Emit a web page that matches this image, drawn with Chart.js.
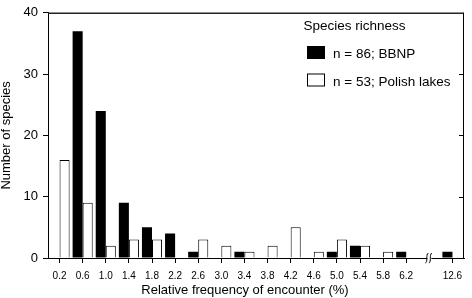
<!DOCTYPE html>
<html><head><meta charset="utf-8">
<script src="https://cdn.jsdelivr.net/npm/chart.js@4/dist/chart.umd.min.js"></script>
<style>html,body{margin:0;padding:0;background:#fff;}#wrap{width:472px;height:298px;}</style>
</head><body><div id="wrap"><canvas id="c" width="472" height="298"></canvas></div>
<script>
// ---- data ----
const categories = ['0.2','0.6','1.0','1.4','1.8','2.2','2.6','3.0','3.4','3.8','4.2','4.6','5.0','5.4','5.8','6.2','','12.6'];
const bbnp   = [0,37,24,9,5,4,1,0,1,0,0,0,1,2,0,1,0,1];
const polish = [16,9,2,3,3,0,3,2,1,2,5,1,3,2,1,0,0,0];
const yTicks = [0,10,20,30,40];
const seriesLabels = ['n = 86; BBNP','n = 53; Polish lakes'];
const legendTitle = 'Species richness';
const xTitle = 'Relative frequency of encounter (%)';
const yTitle = 'Number of species';
const breakIndex = 16;

const FONT = "'Liberation Sans', Arial, Helvetica, sans-serif";

const decor = {
  id: 'decor',
  afterDraw(chart) {
    const ctx = chart.ctx;
    const a = chart.chartArea;
    const ys = chart.scales.y, xs = chart.scales.x;
    ctx.save();
    // top and right frame
    ctx.strokeStyle = '#222';
    ctx.lineWidth = 1.5;
    ctx.beginPath();
    ctx.moveTo(a.left, a.top + 0.5);
    ctx.lineTo(a.right, a.top + 0.5);
    ctx.stroke();
    ctx.lineWidth = 1;
    ctx.strokeStyle = '#000';
    ctx.beginPath();
    ctx.moveTo(a.right - 0.5, a.top);
    ctx.lineTo(a.right - 0.5, a.bottom);
    ctx.stroke();
    // inward ticks on right
    yTicks.forEach(v => {
      if (v === yTicks[0] || v === yTicks[yTicks.length - 1]) return;
      const y = Math.round(ys.getPixelForValue(v)) + 0.5;
      ctx.beginPath();
      ctx.moveTo(a.right - 5, y);
      ctx.lineTo(a.right, y);
      ctx.stroke();
    });
    // axis break
    const bx = xs.getPixelForValue(breakIndex);
    const by = a.bottom;
    ctx.fillStyle = '#fff';
    ctx.fillRect(bx - 2, by - 2, 4, 4);
    ctx.strokeStyle = '#000';
    ctx.lineWidth = 1;
    [-2, 1.5].forEach(dx => {
      ctx.beginPath();
      ctx.moveTo(bx + dx - 2, by + 5);
      ctx.bezierCurveTo(bx + dx + 1, by + 4, bx + dx - 2, by - 3, bx + dx + 1, by - 5);
      ctx.stroke();
    });
    // legend
    ctx.fillStyle = '#000';
    ctx.font = '13.5px ' + FONT;
    ctx.textAlign = 'left';
    ctx.textBaseline = 'alphabetic';
    ctx.fillText(legendTitle, 303.5, 29.5);
    const ds = chart.data.datasets;
    const rows = [58, 85.5];
    ds.forEach((d, i) => {
      const top = rows[i] - 12;
      ctx.fillStyle = d.backgroundColor;
      ctx.fillRect(307, top, 18, 13);
      ctx.strokeStyle = '#000';
      ctx.lineWidth = 1;
      ctx.strokeRect(307.5, top + 0.5, 17, 12);
      ctx.fillStyle = '#000';
      ctx.fillText(d.label, 333, rows[i]);
    });
    // x title
    ctx.font = '13px ' + FONT;
    ctx.textAlign = 'center';
    ctx.textBaseline = 'middle';
    ctx.fillText(xTitle, 245, 290.5);
    ctx.restore();
  }
};

new Chart(document.getElementById('c'), {
  type: 'bar',
  data: {
    labels: categories,
    datasets: [
      { label: seriesLabels[0], data: bbnp, backgroundColor: '#000', borderColor: '#000', borderWidth: 0 },
      { label: seriesLabels[1], data: polish, backgroundColor: '#fff', borderColor: '#000', borderWidth: 1 }
    ]
  },
  options: {
    responsive: false,
    animation: false,
    devicePixelRatio: 1,
    layout: { padding: { top: 7, right: 8, left: 0, bottom: 0 } },
    categoryPercentage: 0.87,
    barPercentage: 1.0,
    plugins: { legend: { display: false }, tooltip: { enabled: false } },
    scales: {
      x: {
        grid: {
          offset: false,
          drawOnChartArea: false,
          tickLength: 5,
          color: c => (c.index === breakIndex ? 'rgba(0,0,0,0)' : '#000')
        },
        border: { display: true, color: '#000', width: 1 },
        ticks: { autoSkip: false, maxRotation: 0, minRotation: 0, padding: 7, color: '#000', font: { family: FONT, size: 10 } },
        afterFit: s => { s.height = 40; }
      },
      y: {
        min: 0, max: 40,
        grid: { drawOnChartArea: false, tickLength: 5, color: '#000' },
        border: { display: true, color: '#000', width: 1 },
        ticks: { stepSize: 10, padding: 5, color: '#000', font: { family: FONT, size: 13 } },
        afterBuildTicks: s => { s.ticks = yTicks.map(v => ({ value: v })); },
        title: { display: true, text: yTitle, color: '#000', font: { family: FONT, size: 13, lineHeight: 1 }, padding: 0 },
        afterFit: s => { s.width = 48; }
      }
    }
  },
  plugins: [decor]
});
</script>
</body></html>
